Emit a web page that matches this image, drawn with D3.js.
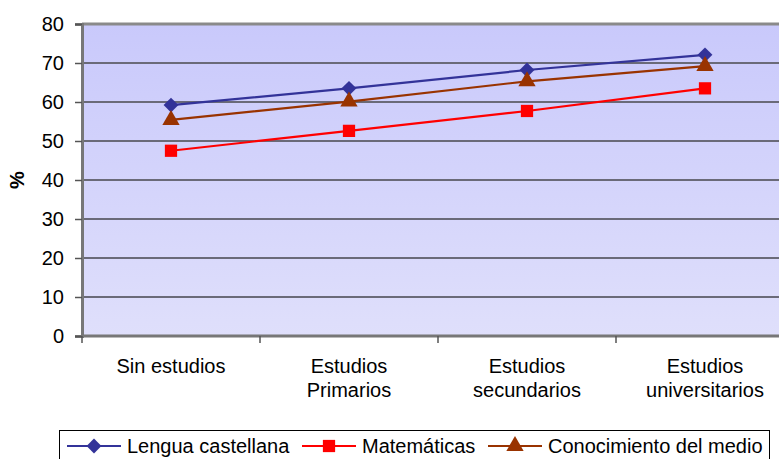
<!DOCTYPE html>
<html>
<head>
<meta charset="utf-8">
<script src="https://cdn.jsdelivr.net/npm/d3@7"></script>
<style>
  html, body { margin: 0; padding: 0; background: #fff; overflow: hidden; }
  svg { display: block; font-family: Arial, "Liberation Sans", sans-serif; }
</style>
</head>
<body>
<svg id="chart" width="779" height="459"></svg>
<script>
// Education level of the parents vs. average score by subject
const categories = [["Sin estudios"], ["Estudios", "Primarios"], ["Estudios", "secundarios"], ["Estudios", "universitarios"]];
const yTicks = [0, 10, 20, 30, 40, 50, 60, 70, 80];
const seriesNames = ["Lengua castellana", "Matemáticas", "Conocimiento del medio"];
const lengua = [59.2, 63.5, 68.2, 72.1];
const matematicas = [47.5, 52.6, 57.7, 63.5];
const conocimiento = [55.4, 60.1, 65.3, 69.2];

const seriesValues = [lengua, matematicas, conocimiento];
const colors = ["#333399", "#ff0000", "#993300"];
// diamond = square turned 45 degrees
const markers = [d3.symbolSquare, d3.symbolSquare, d3.symbolTriangle];
const markerRotate = [45, 0, 0];
const markerSizes = [110, 150, 130];
const fontSize = 20;

const svg = d3.select("#chart");
const plotLeft = 82, plotTop = 24, plotRight = 794, plotBottom = 336;

const x = d3.scaleBand().domain(d3.range(categories.length)).range([plotLeft, plotRight]);
const y = d3.scaleLinear().domain([0, 80]).range([plotBottom, plotTop]);

// plot background gradient
const defs = svg.append("defs");
const grad = defs.append("linearGradient").attr("id", "bg").attr("x1", 0).attr("y1", 0).attr("x2", 0).attr("y2", 1);
grad.append("stop").attr("offset", "0%").attr("stop-color", "#c9c9fb");
grad.append("stop").attr("offset", "100%").attr("stop-color", "#dfdffb");

svg.append("rect").attr("x", plotLeft).attr("y", plotTop).attr("width", plotRight - plotLeft).attr("height", plotBottom - plotTop).attr("fill", "url(#bg)");

// horizontal gridlines
svg.append("g").selectAll("line").data(yTicks.filter(t => t > 0 && t < 80)).join("line")
  .attr("x1", plotLeft).attr("x2", plotRight)
  .attr("y1", d => y(d)).attr("y2", d => y(d))
  .attr("stroke", "#6a6a78").attr("stroke-width", 2);

// top border
svg.append("line").attr("x1", plotLeft).attr("x2", plotRight).attr("y1", y(80)).attr("y2", y(80))
  .attr("stroke", "#8a8a8a").attr("stroke-width", 3);

// y axis
const yAxis = d3.axisLeft(y).tickValues(yTicks).tickSize(7).tickPadding(11);
const gy = svg.append("g").attr("transform", `translate(${plotLeft},0)`).call(yAxis);
gy.select(".domain").attr("stroke", "#777").attr("stroke-width", 3);
gy.selectAll(".tick line").attr("stroke", "#555").attr("stroke-width", 1.5);
gy.selectAll(".tick text").attr("font-size", fontSize).attr("fill", "#000").attr("font-family", "Arial, 'Liberation Sans', sans-serif");

// x axis (ticks on category boundaries)
const gx = svg.append("g");
gx.append("line").attr("x1", plotLeft).attr("x2", plotRight).attr("y1", plotBottom).attr("y2", plotBottom)
  .attr("stroke", "#777").attr("stroke-width", 3);
gx.selectAll("line.tk").data(d3.range(categories.length + 1)).join("line").attr("class", "tk")
  .attr("x1", i => plotLeft + i * x.bandwidth()).attr("x2", i => plotLeft + i * x.bandwidth())
  .attr("y1", plotBottom).attr("y2", plotBottom + 7)
  .attr("stroke", "#555").attr("stroke-width", 1.5);
const labels = gx.selectAll("text").data(categories).join("text")
  .attr("x", (d, i) => x(i) + x.bandwidth() / 2)
  .attr("y", 373)
  .attr("text-anchor", "middle").attr("font-size", fontSize).attr("fill", "#000");
labels.selectAll("tspan").data(d => d).join("tspan")
  .attr("x", function() { return this.parentNode.getAttribute("x"); })
  .attr("dy", (d, i) => i === 0 ? 0 : 24)
  .text(d => d);

// y title
svg.append("text").attr("transform", "translate(24,180) rotate(-90)")
  .attr("text-anchor", "middle").attr("font-size", fontSize).attr("font-weight", "bold").text("%");

// series lines + markers
const line = d3.line().x((d, i) => x(i) + x.bandwidth() / 2).y(d => y(d));
seriesValues.forEach((vals, s) => {
  svg.append("path").attr("d", line(vals)).attr("fill", "none")
    .attr("stroke", colors[s]).attr("stroke-width", 2.2);
});
seriesValues.forEach((vals, s) => {
  svg.append("g").selectAll("path").data(vals).join("path")
    .attr("transform", (d, i) => `translate(${x(i) + x.bandwidth() / 2},${y(d)}) rotate(${markerRotate[s]})`)
    .attr("d", d3.symbol().type(markers[s]).size(markerSizes[s]))
    .attr("fill", colors[s]);
});

// legend
const legend = svg.append("g");
legend.append("rect").attr("x", 59.5).attr("y", 430.5).attr("width", 710).attr("height", 40)
  .attr("fill", "#fff").attr("stroke", "#000").attr("stroke-width", 1);
const legendX = [67, 302, 488];
seriesNames.forEach((name, s) => {
  const g = legend.append("g").attr("transform", `translate(${legendX[s]},446)`);
  g.append("line").attr("x1", 0).attr("x2", 54).attr("y1", 0).attr("y2", 0)
    .attr("stroke", colors[s]).attr("stroke-width", 2.2);
  g.append("path").attr("transform", `translate(27,0) rotate(${markerRotate[s]})`)
    .attr("d", d3.symbol().type(markers[s]).size(markerSizes[s]))
    .attr("fill", colors[s]);
  g.append("text").attr("x", 60).attr("y", 7).attr("font-size", fontSize).attr("fill", "#000").text(name);
});
</script>
</body>
</html>
